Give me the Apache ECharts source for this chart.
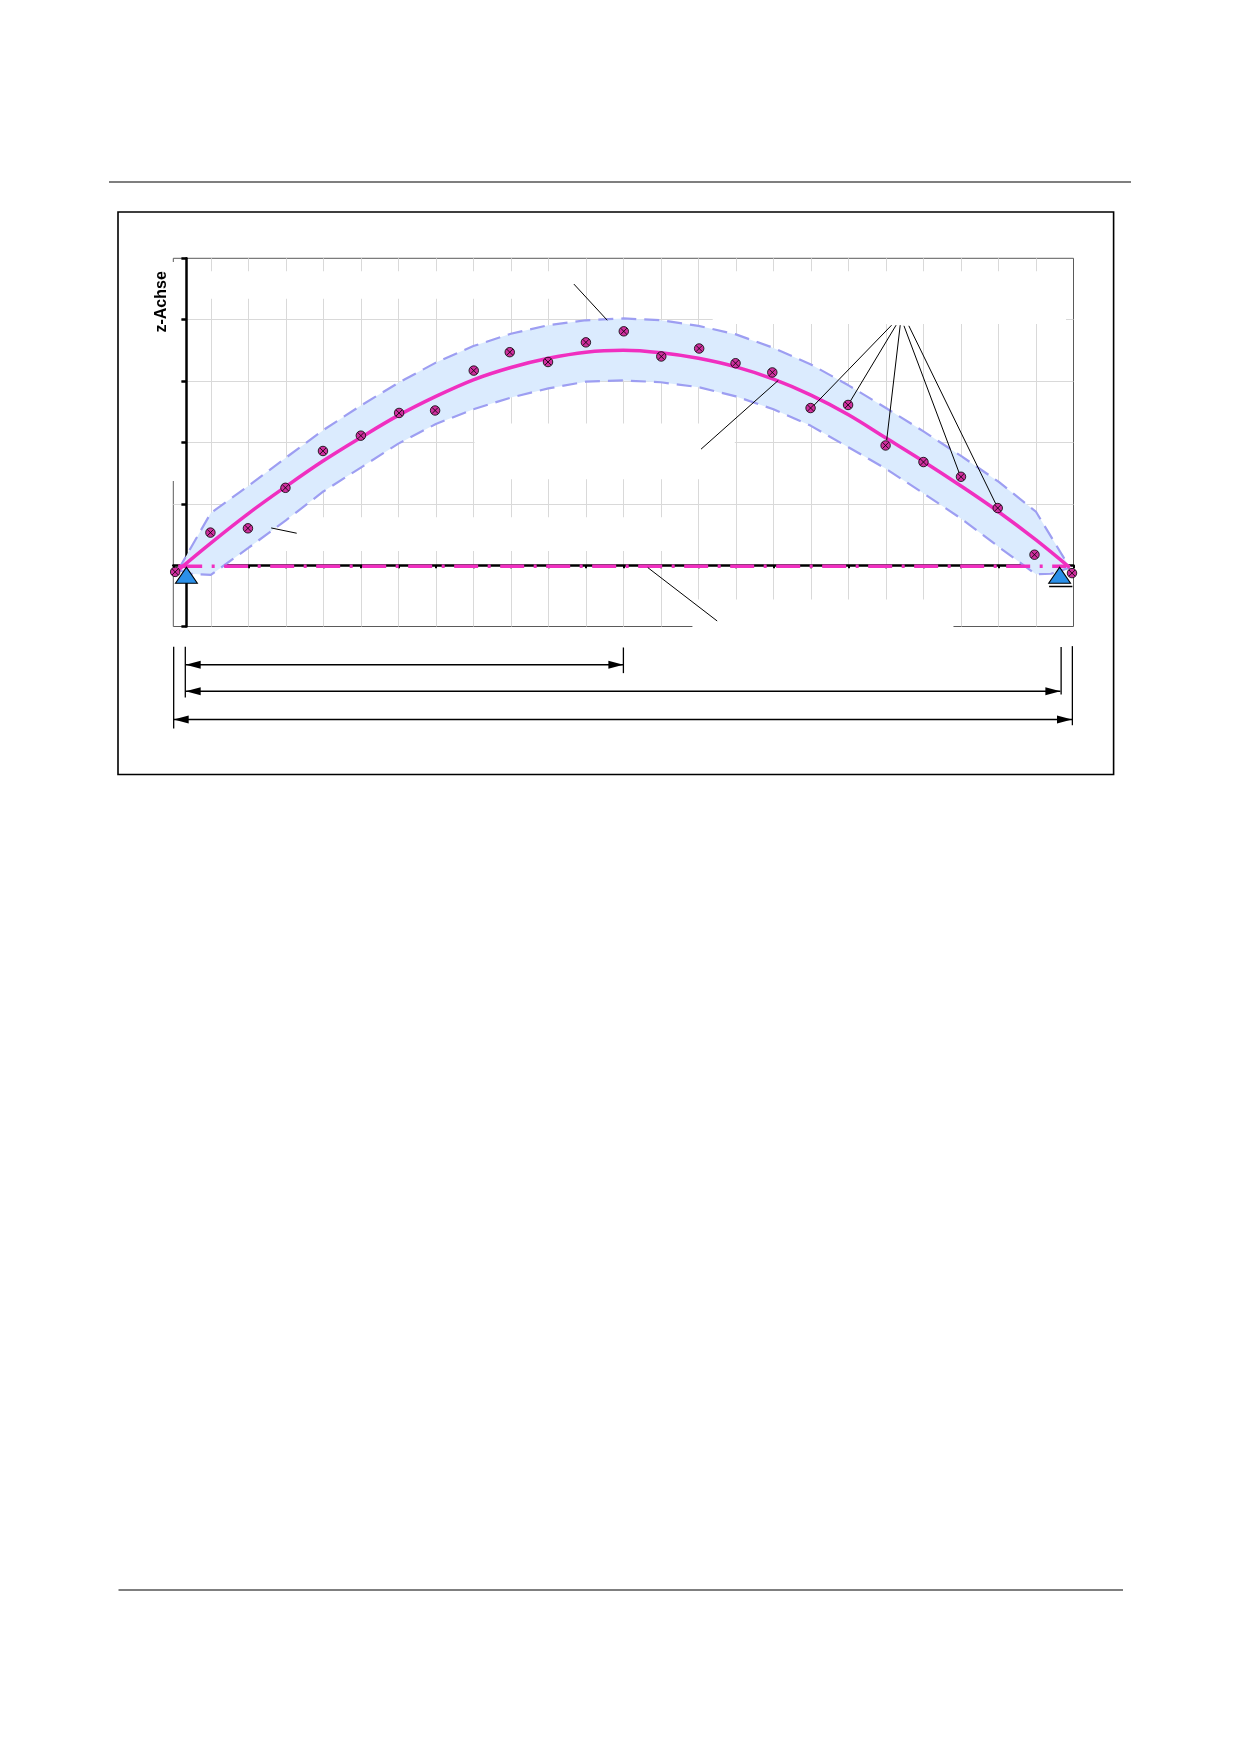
<!DOCTYPE html>
<html>
<head>
<meta charset="utf-8">
<style>html,body{margin:0;padding:0;background:#fff}#c{width:1240px;height:1754px}</style>
<script src="https://cdn.jsdelivr.net/npm/echarts@6/dist/echarts.min.js"></script>
</head>
<body>
<div id="c"></div>
<script>
// chart values, in axis units
var xTicksMax = 24;
var zMin = -1, zMax = 5;
var yAxisTitle = 'z-Achse';

var centreX = [0.13,1,2,3,4,5,6,7,8,9,10,11,12,13,14,15,16,17,18,19,20,21,22,23,23.9];
var centreZ = [-0.08,0.36,0.84,1.28,1.70,2.08,2.44,2.75,3.02,3.22,3.37,3.47,3.50,3.46,3.37,3.23,3.03,2.77,2.45,2.07,1.69,1.29,0.87,0.41,-0.04];

var upperX = [0.13,1,2,3,4,5,6,7,8,9,10,11,12,13,14,15,16,17,18,19,20,21,22,23,23.9];
var upperZ = [-0.08,0.85,1.29,1.75,2.20,2.60,2.97,3.30,3.57,3.77,3.91,3.99,4.02,3.99,3.90,3.76,3.54,3.27,2.93,2.56,2.18,1.78,1.36,0.87,-0.04];

var lowerX = [0.13,0.45,1,2,3,4,5,6,7,8,9,10,11,12,13,14,15,16,17,18,19,20,21,22,23,23.4,23.9];
var lowerZ = [-0.08,-0.14,-0.16,0.28,0.73,1.20,1.59,1.98,2.30,2.54,2.73,2.88,2.99,3.01,2.98,2.90,2.75,2.54,2.27,1.92,1.57,1.17,0.76,0.30,-0.15,-0.14,-0.04];

var pointX = [0.05,0.99,1.99,2.99,3.99,5.0,6.02,6.98,8.01,8.97,9.99,11.0,12.01,13.01,14.02,14.99,15.97,16.99,17.99,18.99,20,21,21.98,22.96,23.96];
var pointZ = [-0.11,0.53,0.60,1.26,1.86,2.11,2.48,2.52,3.17,3.47,3.31,3.63,3.81,3.40,3.53,3.29,3.14,2.56,2.61,1.95,1.68,1.44,0.93,0.17,-0.13];

var chordX = [0.13,23.8];
var chordZ = [-0.02,-0.02];

var supportX = [0.35,23.63];
var supportZ = [-0.165,-0.165];
var supportBaseX = [23.35,23.97];
var supportBaseZ = [-0.349,-0.349];

// leader lines: x1, z1, x2, z2
var leaders = [
  [10.68,4.58,11.57,3.99],
  [14.07,1.89,16.13,3.01],
  [2.61,0.606,3.29,0.52],
  [12.65,-0.04,14.50,-0.91],
  [19.15,3.91,17.01,2.56],
  [19.27,3.91,17.99,2.61],
  [19.38,3.91,19.02,2.04],
  [19.48,3.90,20.96,1.49],
  [19.61,3.90,21.95,0.97]
];

// dimension lines: from x, to x, z
var dimensions = [
  [0.33,12,-1.623],
  [0.33,23.65,-2.056],
  [0.01,23.96,-2.516]
];
// extension lines: x, z top, z bottom
var extensions = [
  [0.32,-1.33,-2.157],
  [0.01,-1.33,-2.663],
  [12,-1.342,-1.76],
  [23.67,-1.335,-2.11],
  [23.97,-1.32,-2.609]
];
// blanked parts of the grid: x1, x2, z1, z2
var blanks = [
  [-0.05,0.2,1.37,4.94],
  [0.5,10.6,4.34,4.79],
  [14.38,23.8,3.93,4.79],
  [8.03,14.97,1.40,2.31],
  [2.31,13.9,0.23,0.78],
  [13.84,20.8,-1.03,-0.56]
];

function zip(a,b){return a.map(function(v,i){return [v,b[i]];});}

var PINK='#f02fc0', DASH='#9d9ef2', FILL='#dbebfe', GRIDC='#d9d9d9';
var markerPath='path://M10 1A9 9 0 1 1 10 19A9 9 0 1 1 10 1ZM4 4L16 16M4 16L16 4';

var chart = echarts.init(document.getElementById('c'),null,{renderer:'canvas'});

chart.setOption({
  animation:false,
  backgroundColor:'#fff',
  grid:{left:173.3,top:258.3,width:900.2,height:368.2,show:true,borderColor:'#5a5a5a',borderWidth:1,backgroundColor:'transparent',containLabel:false},
  xAxis:{
    type:'value',min:0,max:xTicksMax,interval:1,
    axisLabel:{show:false},
    axisLine:{onZero:true,lineStyle:{color:'#000',width:2.5}},
    axisTick:{show:true,length:3,lineStyle:{color:'#000',width:2}},
    splitLine:{show:true,showMinLine:false,showMaxLine:false,lineStyle:{color:GRIDC,width:1}}
  },
  yAxis:{
    type:'value',min:zMin,max:zMax,interval:1,offset:-13.1,
    name:yAxisTitle,nameLocation:'middle',nameGap:17,nameRotate:90,
    nameTextStyle:{fontFamily:'Liberation Sans',fontWeight:'bold',fontSize:16,color:'#000',padding:[0,0,0,281]},
    axisLabel:{show:false},
    axisLine:{onZero:false,lineStyle:{color:'#000',width:2.5}},
    axisTick:{show:true,length:5,lineStyle:{color:'#000',width:2.5}},
    splitLine:{show:true,showMinLine:false,showMaxLine:false,lineStyle:{color:GRIDC,width:1}}
  },
  graphic:[
    {type:'line',silent:true,shape:{x1:109,y1:182,x2:1131,y2:182},style:{stroke:'#555',lineWidth:1.3}},
    {type:'line',silent:true,shape:{x1:118.5,y1:1590,x2:1123,y2:1590},style:{stroke:'#555',lineWidth:1.3}},
    {type:'rect',silent:true,z:-1,shape:{x:118,y:212,width:995.6,height:562.5},style:{fill:'transparent',stroke:'#000',lineWidth:1.6}}
  ],
  series:[
    {type:'custom',name:'blanks',z:1,silent:true,coordinateSystem:'cartesian2d',data:blanks,
     renderItem:function(p,api){
       var a=api.coord([api.value(0),api.value(3)]),b=api.coord([api.value(1),api.value(2)]);
       return {type:'rect',shape:{x:a[0],y:a[1],width:b[0]-a[0],height:b[1]-a[1]},style:{fill:'#fff'}};
     }},
    {type:'custom',name:'band',z:2,silent:true,coordinateSystem:'cartesian2d',data:[[0,0]],
     renderItem:function(p,api){
       var pts=[];
       upperX.forEach(function(x,i){pts.push(api.coord([x,upperZ[i]]));});
       for(var i=lowerX.length-1;i>=0;i--){pts.push(api.coord([lowerX[i],lowerZ[i]]));}
       return {type:'polygon',shape:{points:pts},style:{fill:FILL}};
     }},
    {type:'line',name:'upper',z:3,silent:true,symbol:'none',data:zip(upperX,upperZ),lineStyle:{color:DASH,width:2.2,type:[15,8]}},
    {type:'line',name:'lower',z:3,silent:true,symbol:'none',data:zip(lowerX,lowerZ),lineStyle:{color:DASH,width:2.2,type:[15,8]}},
    {type:'line',name:'chord',z:4,silent:true,symbol:'none',data:zip(chordX,chordZ),lineStyle:{color:PINK,width:3.5,type:[24,9.5,3,9.5]}},
    {type:'line',name:'centre',z:5,silent:true,symbol:'none',smooth:0.35,data:zip(centreX,centreZ),lineStyle:{color:PINK,width:3.5}},
    {type:'custom',name:'leaders',z:6,silent:true,coordinateSystem:'cartesian2d',data:leaders,
     renderItem:function(p,api){
       var a=api.coord([api.value(0),api.value(1)]),b=api.coord([api.value(2),api.value(3)]);
       return {type:'line',shape:{x1:a[0],y1:a[1],x2:b[0],y2:b[1]},style:{stroke:'#000',lineWidth:1}};
     }},
    {type:'scatter',name:'supports',z:7,silent:true,symbol:'triangle',symbolSize:[22,16],data:zip(supportX,supportZ),
     itemStyle:{color:'#2b90e9',borderColor:'#000',borderWidth:1,opacity:1}},
    {type:'line',name:'supportBase',z:7,silent:true,symbol:'none',data:zip(supportBaseX,supportBaseZ),lineStyle:{color:'#000',width:1.5}},
    {type:'scatter',name:'points',z:8,silent:true,symbol:markerPath,symbolSize:9.5,clip:false,data:zip(pointX,pointZ),
     itemStyle:{color:'#cf2f9e',borderColor:'#000',borderWidth:0.8,opacity:1}},
    {type:'custom',name:'extensions',z:6,silent:true,coordinateSystem:'cartesian2d',data:extensions,
     renderItem:function(p,api){
       var a=api.coord([api.value(0),api.value(1)]),b=api.coord([api.value(0),api.value(2)]);
       return {type:'line',shape:{x1:a[0],y1:a[1],x2:b[0],y2:b[1]},style:{stroke:'#000',lineWidth:1.3}};
     }},
    {type:'custom',name:'dimensions',z:6,silent:true,coordinateSystem:'cartesian2d',data:dimensions,
     renderItem:function(p,api){
       var a=api.coord([api.value(0),api.value(2)]),b=api.coord([api.value(1),api.value(2)]);
       var L=15,H=4;
       return {type:'group',children:[
         {type:'line',shape:{x1:a[0],y1:a[1],x2:b[0],y2:b[1]},style:{stroke:'#000',lineWidth:1.4}},
         {type:'polygon',shape:{points:[[a[0],a[1]],[a[0]+L,a[1]-H],[a[0]+L,a[1]+H]]},style:{fill:'#000'}},
         {type:'polygon',shape:{points:[[b[0],b[1]],[b[0]-L,b[1]-H],[b[0]-L,b[1]+H]]},style:{fill:'#000'}}
       ]};
     }}
  ]
});
</script>
</body>
</html>
